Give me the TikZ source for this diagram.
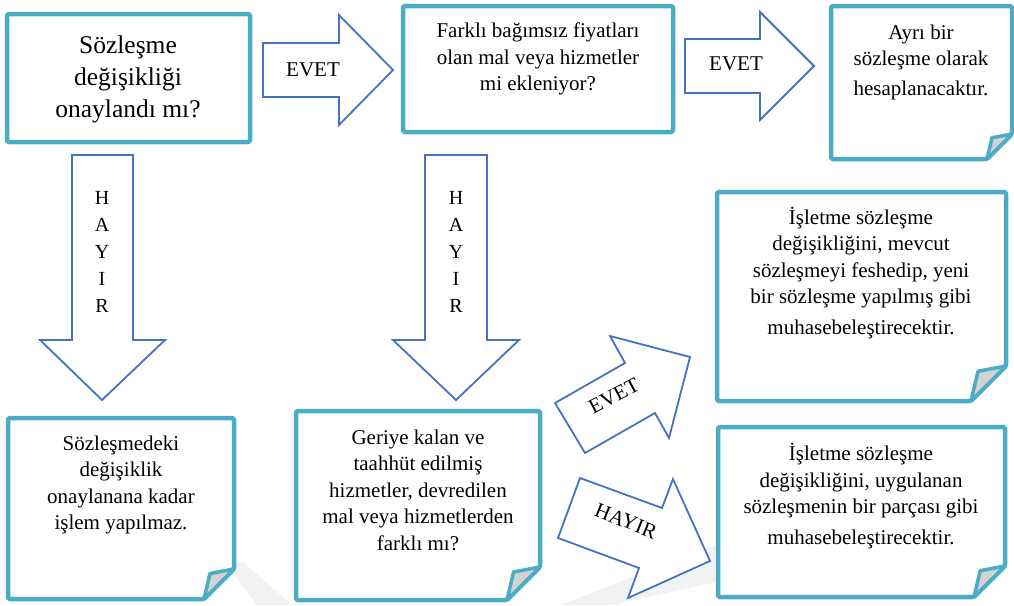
\documentclass[tikz,border=0pt]{standalone}
\usepackage{fontspec}
\setmainfont{Liberation Serif}
\definecolor{boxteal}{HTML}{4BACC6}
\definecolor{arrowblue}{HTML}{4472C4}
\definecolor{flapgray}{HTML}{D2D2D2}
\definecolor{markgray}{HTML}{F2F2F2}

% Box with a folded bottom-right corner: x1, y1, x2, y2, corner size
\newcommand\foldedbox[5]{%
  \draw[frame] (#1,#2) -- (#3,#2) -- (#3,#4-#5) -- (#3-#5,#4) -- (#1,#4) -- cycle;
  \draw[flap] (#3-#5,#4) -- (#3-#5+0.2*#5,#4-0.85*#5) -- (#3,#4-#5) -- cycle;
}

\begin{document}
\begin{tikzpicture}[x=1pt,y=-1pt,
  frame/.style={draw=boxteal,line width=4.5pt,rounded corners=1.5pt,fill=white,line join=round},
  flap/.style={draw=boxteal,line width=3.5pt,fill=flapgray,line join=round},
  blockarrow/.style={draw=arrowblue,line width=1.8pt,fill=white,line join=miter},
  txt/.style={align=center,text=black,inner sep=0pt,font=\fontsize{21}{26.5}\selectfont},
  bigtxt/.style={align=center,text=black,inner sep=0pt,font=\fontsize{25.5}{32}\selectfont},
  vtxt/.style={align=center,text=black,inner sep=0pt,font=\fontsize{20}{27}\selectfont}]

\useasboundingbox (0,0) rectangle (1014,605);

% faint background marks
\fill[markgray] (225,562) -- (243,562) -- (292,605) -- (257,605) -- cycle;
\fill[markgray] (560,605) -- (716,545) -- (716,582) -- (612,605) -- cycle;

% boxes
\draw[frame] (7,14) rectangle (250,142);
\draw[frame] (403,6) rectangle (673,132);
\foldedbox{831}{6}{1012}{159}{25}
\foldedbox{717}{192}{1006}{401}{35}
\foldedbox{718}{427}{1005}{597}{31}
\foldedbox{296}{411}{540}{600}{33}
\foldedbox{8}{418}{234}{599}{30}

% block arrows
\draw[blockarrow] (263,43) -- (339,43) -- (339,15) -- (393,70) -- (339,125) -- (339,97) -- (263,97) -- cycle;
\draw[blockarrow] (685,39) -- (760,39) -- (760,12) -- (814,66) -- (760,120) -- (760,93) -- (685,93) -- cycle;
\draw[blockarrow] (72,155) -- (133,155) -- (133,340) -- (165,340) -- (102,400) -- (40,340) -- (72,340) -- cycle;
\draw[blockarrow] (425,155) -- (487,155) -- (487,340) -- (519,340) -- (456,400) -- (393,340) -- (425,340) -- cycle;
\draw[blockarrow] (555,403) -- (625,363) -- (610,336) -- (690,357) -- (669,438) -- (655,413) -- (585,453) -- cycle;
\draw[blockarrow] (580,478) -- (662,508) -- (673,479) -- (710,561) -- (628,598) -- (639,568) -- (558,538) -- cycle;

% box texts
\node[bigtxt] (approved) at (128,79) {Sözleşme\\değişikliği\\onaylandı mı?};
\node[txt] (added) at (538,59) {Farklı bağımsız fiyatları\\olan mal veya hizmetler\\mi ekleniyor?};
\node[txt] (separate) at (921,62) {Ayrı bir\\sözleşme olarak\\[3pt]hesaplanacaktır.};
\node[txt] (terminate) at (861,273) {İşletme sözleşme\\değişikliğini, mevcut\\sözleşmeyi feshedip, yeni\\bir sözleşme yapılmış gibi\\[4pt]muhasebeleştirecektir.};
\node[txt] (partof) at (861,496) {İşletme sözleşme\\değişikliğini, uygulanan\\sözleşmenin bir parçası gibi\\[4pt]muhasebeleştirecektir.};
\node[txt] (remaining) at (418,490) {Geriye kalan ve\\taahhüt edilmiş\\hizmetler, devredilen\\mal veya hizmetlerden\\farklı mı?};
\node[txt] (pending) at (121,485) {Sözleşmedeki\\değişiklik\\onaylanana kadar\\işlem yapılmaz.};

% arrow labels
\node[txt] (yes1) at (313,70) {EVET};
\node[txt] (yes2) at (736,64) {EVET};
\node[vtxt] (no1) at (102,252) {H\\A\\Y\\I\\R};
\node[vtxt] (no2) at (456,252) {H\\A\\Y\\I\\R};
\node[txt,rotate=28] (yes3) at (614,396) {EVET};
\node[txt,rotate=-22] (no3) at (626,521) {HAYIR};
\end{tikzpicture}
\end{document}
